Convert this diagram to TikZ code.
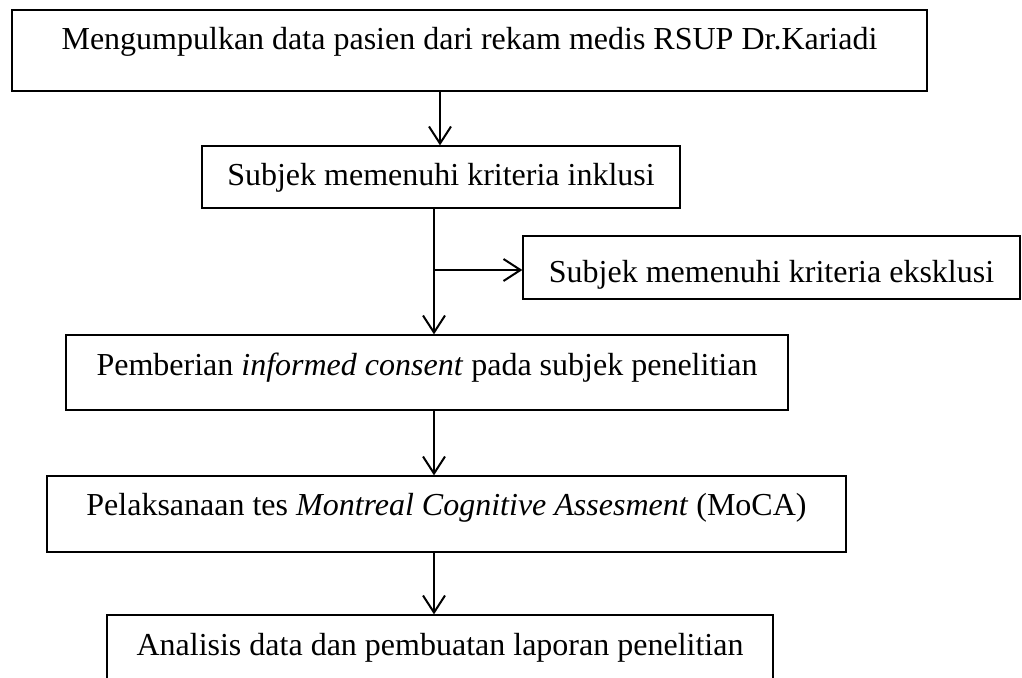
\documentclass[tikz,border=0pt]{standalone}
\usepackage{fontspec}
\setmainfont{Liberation Serif}
\usetikzlibrary{arrows.meta}
\begin{document}
\begin{tikzpicture}[x=1pt,y=-1pt,
  box/.style={draw, line width=1.3pt, rectangle, inner xsep=0pt, inner ysep=0pt,
    font=\fontsize{32}{38}\selectfont, anchor=center},
  arr/.style={line width=2pt, -{Straight Barb[length=17pt,width=22pt,line width=2pt]}},
  ln/.style={line width=2pt}]
\clip (0,0) rectangle (1022,677);
\fill[white] (0,0) rectangle (1022,677);
\node[box, minimum width=915pt, text height=40pt, text depth=41pt] (b1) at (469.5,50.5) {Mengumpulkan data pasien dari rekam medis RSUP Dr.Kariadi};
\node[box, minimum width=478pt, text height=39pt, text depth=23pt] (b2) at (441,177) {Subjek memenuhi kriteria inklusi};
\node[box, minimum width=497pt, text height=46pt, text depth=17pt] (b3) at (771.5,267.5) {Subjek memenuhi kriteria eksklusi};
\node[box, minimum width=722pt, text height=40pt, text depth=35pt] (b4) at (427,372.5) {Pemberian \textit{informed consent} pada subjek penelitian};
\node[box, minimum width=799pt, text height=39pt, text depth=37pt] (b5) at (446.5,514) {Pelaksanaan tes \textit{Montreal Cognitive Assesment} (MoCA)};
\node[box, minimum width=666pt, text height=40pt, text depth=35pt] (b6) at (440,652.5) {Analisis data dan pembuatan laporan penelitian};
\coordinate (c1) at (440,0);
\coordinate (c2) at (434,0);
\coordinate (br) at (434,270);
\draw[arr] (b1.south -| c1) -- (b2.north -| c1);
\draw[arr] (b2.south -| c2) -- (b4.north -| c2);
\draw[arr] (br) -- (b3.west |- br);
\draw[arr] (b4.south -| c2) -- (b5.north -| c2);
\draw[arr] (b5.south -| c2) -- (b6.north -| c2);
\end{tikzpicture}
\end{document}
